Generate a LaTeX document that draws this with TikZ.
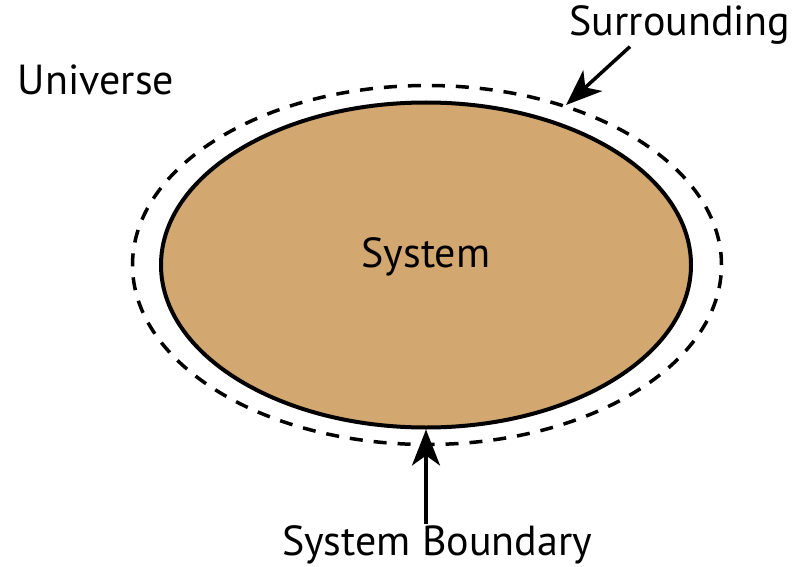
\documentclass[tikz,border=0pt]{standalone}
\usepackage{fontspec}
\setmainfont{PT Sans}
\usetikzlibrary{arrows.meta, shapes.geometric, positioning}
\definecolor{systan}{RGB}{210,167,112}
\tikzset{
  label text/.style={font=\fontsize{42}{50}\selectfont, inner sep=2pt},
  pointer/.style={line width=3.5pt, -{Stealth[length=36pt,width=28pt,inset=10pt]}}
}
\begin{document}
\begin{tikzpicture}[x=1pt, y=-1pt]
  \useasboundingbox (0,0) rectangle (798,567);
  % outer and inner ellipse
  \node[ellipse, draw, dash pattern=on 13pt off 11pt, line width=3.5pt,
        minimum width=589pt, minimum height=359pt, inner sep=0pt] (surr) at (427,265) {};
  \node[ellipse, draw, fill=systan, line width=4pt,
        minimum width=530pt, minimum height=325pt, inner sep=0pt] (sys) at (426,265) {};
  \node[label text] (systext) at (426,257) {System};
  % labels
  \node[label text] (universe) at (96,80) {Universe};
  \node[label text] (surrlabel) at (680,25) {Surrounding};
  \node[label text] (bndlabel) at (437,545) {System Boundary};
  % arrows
  \draw[pointer] ([xshift=-50pt]surrlabel.south) -- (surr.49);
  \draw[pointer] (bndlabel.north -| sys.south) -- (sys.south);
\end{tikzpicture}
\end{document}
